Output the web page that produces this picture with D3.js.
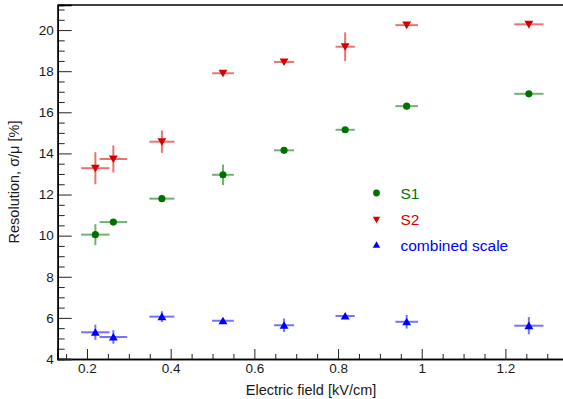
<!DOCTYPE html>
<html><head><meta charset="utf-8">
<script src="https://cdn.jsdelivr.net/npm/d3@7"></script>
<style>body{margin:0;background:#fff}svg{display:block}</style>
</head><body>
<svg id="c" width="563" height="399"></svg>
<script>
const fields = [0.22, 0.263, 0.379, 0.525, 0.671, 0.817, 0.964, 1.256];
const fieldErr = [0.034, 0.033, 0.03, 0.026, 0.024, 0.023, 0.027, 0.035];
const s1 = [10.05, 10.66, 11.8, 12.96, 14.15, 15.15, 16.3, 16.9];
const s1Err = [0.51, 0.08, 0.08, 0.5, 0.08, 0.08, 0.08, 0.08];
const s2 = [13.28, 13.73, 14.57, 17.9, 18.45, 19.19, 20.24, 20.28];
const s2Err = [0.78, 0.66, 0.54, 0.08, 0.08, 0.7, 0.1, 0.15];
const comb = [5.3, 5.07, 6.06, 5.86, 5.64, 6.09, 5.81, 5.62];
const combErr = [0.37, 0.33, 0.26, 0.1, 0.33, 0.08, 0.33, 0.42];
const seriesNames = ["S1", "S2", "combined scale"];
const xTickLabels = ["0.2", "0.4", "0.6", "0.8", "1", "1.2"];
const yTickLabels = ["4", "6", "8", "10", "12", "14", "16", "18", "20"];

const colors = ["#007000", "#d40000", "#0000ff"];
const svg = d3.select("#c");
const x = d3.scaleLinear().domain([0.13, 1.34]).range([57.7, 564]);
const y = d3.scaleLinear().domain([4, 21.22]).range([359, 5]);
const font = "Liberation Sans, Arial, sans-serif";

// frame top line
svg.append("line").attr("x1", x(0.13)).attr("x2", 563).attr("y1", y(21.22)).attr("y2", y(21.22))
  .attr("stroke", "#000").attr("stroke-width", 1.5);

// X axis
const xMajor = xTickLabels.map(Number);
const xMinor = d3.range(0.15, 1.31, 0.05).filter(v => !xMajor.some(m => Math.abs(m - v) < 1e-6));
const gx = svg.append("g").attr("transform", `translate(0,${y(4)})`);
gx.call(d3.axisBottom(x).tickValues(xMinor).tickSize(-5).tickFormat(""));
gx.append("g").call(d3.axisBottom(x).tickValues(xMajor).tickSize(-10).tickPadding(4)
  .tickFormat((d, i) => xTickLabels[i]));
gx.selectAll(".domain").attr("stroke", "#000").attr("stroke-width", 1.5);
gx.selectAll("line").attr("stroke", "#222");
gx.selectAll("text").attr("font-family", font).attr("font-size", 13.5).attr("fill", "#1a1a1a");

// Y axis
const yMajor = yTickLabels.map(Number);
const yMinor = d3.range(4.5, 21.01, 0.5).filter(v => !yMajor.some(m => Math.abs(m - v) < 1e-6));
const gy = svg.append("g").attr("transform", `translate(${x(0.13)},0)`);
gy.call(d3.axisLeft(y).tickValues(yMinor).tickSize(-7).tickFormat(""));
gy.append("g").call(d3.axisLeft(y).tickValues(yMajor).tickSize(-14).tickPadding(4)
  .tickFormat((d, i) => yTickLabels[i]));
gy.selectAll(".domain").attr("stroke", "#000").attr("stroke-width", 1.5);
gy.selectAll("line").attr("stroke", "#222");
gy.selectAll("text").attr("font-family", font).attr("font-size", 13.5).attr("fill", "#1a1a1a");

// axis titles
svg.append("text").attr("x", 311).attr("y", 395).attr("text-anchor", "middle")
  .attr("font-family", font).attr("font-size", 14.5).attr("fill", "#1a1a1a").text("Electric field [kV/cm]");
svg.append("text").attr("transform", "translate(19,182) rotate(-90)").attr("text-anchor", "middle")
  .attr("font-family", font).attr("font-size", 14.5).attr("fill", "#1a1a1a").text("Resolution, σ/μ [%]");

// data series
const series = [
  {vals: s1, err: s1Err, sym: d3.symbolCircle, size: 40, rot: 0},
  {vals: s2, err: s2Err, sym: d3.symbolTriangle, size: 34, rot: 180},
  {vals: comb, err: combErr, sym: d3.symbolTriangle, size: 34, rot: 0}
];
series.forEach((s, si) => {
  const g = svg.append("g");
  fields.forEach((f, i) => {
    const cx = x(f), cy = y(s.vals[i]);
    g.append("line").attr("x1", x(f - fieldErr[i])).attr("x2", x(f + fieldErr[i]))
      .attr("y1", cy).attr("y2", cy).attr("stroke", colors[si]).attr("stroke-width", 2).attr("stroke-opacity", 0.55);
    g.append("line").attr("x1", cx).attr("x2", cx)
      .attr("y1", y(s.vals[i] - s.err[i])).attr("y2", y(s.vals[i] + s.err[i]))
      .attr("stroke", colors[si]).attr("stroke-width", 2).attr("stroke-opacity", 0.55);
    g.append("path").attr("d", d3.symbol().type(s.sym).size(s.size)())
      .attr("transform", `translate(${cx},${cy + (s.sym === d3.symbolTriangle ? (s.rot ? -1 : 1) : 0)}) rotate(${s.rot})`)
      .attr("fill", colors[si]);
  });
});

// legend
const legY = [193, 219, 245.5];
seriesNames.forEach((n, i) => {
  const s = series[i];
  svg.append("path").attr("d", d3.symbol().type(s.sym).size(i === 0 ? 36 : 24)())
    .attr("transform", `translate(376.5,${legY[i]}) rotate(${s.rot})`).attr("fill", colors[i]);
  svg.append("text").attr("x", 400.5).attr("y", legY[i] + 5.5).attr("font-family", font)
    .attr("font-size", 15.5).attr("fill", colors[i]).text(n);
});
</script>
</body></html>
